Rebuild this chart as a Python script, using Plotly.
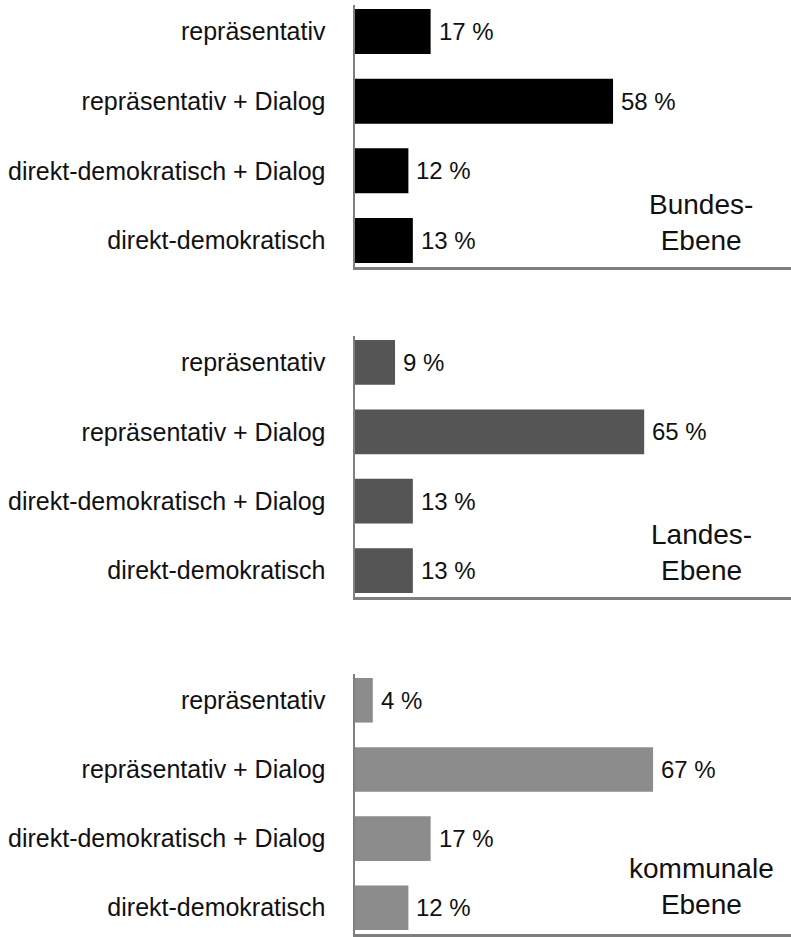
import plotly.graph_objects as go

categories = ["repräsentativ", "repräsentativ + Dialog", "direkt-demokratisch + Dialog", "direkt-demokratisch"]
bund_values = [17, 58, 12, 13]
land_values = [9, 65, 13, 13]
kommunal_values = [4, 67, 17, 12]
panel_titles = ["Bundes-<br>Ebene", "Landes-<br>Ebene", "kommunale<br>Ebene"]
bar_colors = ["#000000", "#555555", "#8c8c8c"]

H = 937
panels_px = [(5, 267), (336, 597), (674, 934)]
title_centers_px = [222, 552, 886]
FONT = "Liberation Sans, Arial, Helvetica, sans-serif"

fig = go.Figure()
series = [bund_values, land_values, kommunal_values]
for i, vals in enumerate(series):
    suffix = "" if i == 0 else str(i + 1)
    fig.add_trace(go.Bar(
        x=vals, y=categories, orientation="h",
        marker=dict(color=bar_colors[i], line=dict(width=0)),
        width=0.645,
        xaxis="x" + suffix, yaxis="y" + suffix,
        hoverinfo="skip", showlegend=False,
    ))
    top, bot = panels_px[i]
    dom = [1 - bot / H, 1 - top / H]
    fig.layout["xaxis" + suffix] = dict(
        domain=[0, 1], range=[0, 98], anchor="y" + suffix,
        showgrid=False, zeroline=False, showticklabels=False, ticks="",
        showline=True, linecolor="#7f7f7f", linewidth=2.5, fixedrange=True,
        automargin=False,
    )
    fig.layout["yaxis" + suffix] = dict(
        domain=dom, anchor="x" + suffix, type="category",
        categoryorder="array", categoryarray=categories,
        range=[3.38, -0.38],
        showgrid=False, zeroline=False, ticks="",
        showline=True, linecolor="#7f7f7f", linewidth=2.5,
        tickfont=dict(family=FONT, size=25, color="#111111"),
        ticklabelstandoff=22, fixedrange=True, automargin=False,
    )
    for c, v in zip(categories, vals):
        fig.add_annotation(
            x=v, y=c, xref="x" + suffix, yref="y" + suffix,
            text=f"{v} %", showarrow=False, xanchor="left", yanchor="middle",
            xshift=6, font=dict(family=FONT, size=24, color="#111111"),
        )
    fig.add_annotation(
        x=(701 - 355) / 436, y=1 - title_centers_px[i] / H, xref="paper", yref="paper",
        text=panel_titles[i], showarrow=False, xanchor="center", yanchor="middle",
        align="center", font=dict(family=FONT, size=28, color="#111111"),
    )

fig.update_layout(
    width=791, height=937,
    margin=dict(l=355, r=0, t=0, b=0, autoexpand=False),
    paper_bgcolor="white", plot_bgcolor="white",
    bargap=0.35,
)

fig.write_html(
    "out.html",
    config={"displayModeBar": False, "staticPlot": True},
    post_script="document.body.style.margin='0';document.body.style.overflow='hidden';",
)
